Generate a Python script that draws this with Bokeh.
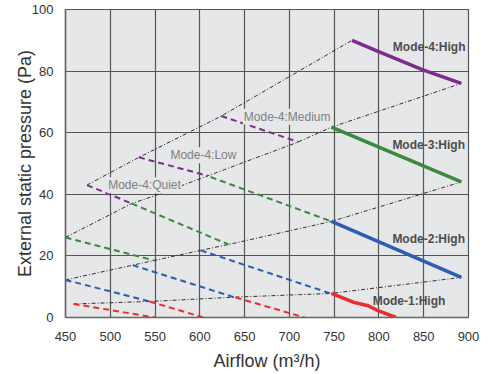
from bokeh.plotting import figure
from bokeh.models import Range1d, FixedTicker, Label
from bokeh.embed import file_html
from bokeh.resources import INLINE

# ---- axis ticks ----
x_ticks = [450, 500, 550, 600, 650, 700, 750, 800, 850, 900]
y_ticks = [0, 20, 40, 60, 80, 100]

# ---- system (black dash-dot) curves ----
sys1_x = [474, 532, 624, 770]
sys1_y = [43, 52, 65.4, 90]
sys2_x = [450, 524, 551, 609, 710, 747, 892]
sys2_y = [26, 37, 39.7, 46, 57, 61.8, 76]
sys3_x = [450, 525, 549, 601, 632, 747, 892]
sys3_y = [12.2, 17, 18.5, 21.8, 23.7, 31.2, 44]
sys4_x = [459, 544, 638, 746, 892]
sys4_y = [4.4, 5.2, 6.6, 7.8, 13]

# ---- Mode-4 (purple) ----
m4_quiet_x = [474, 524]
m4_quiet_y = [43, 37]
m4_low_x = [532, 609]
m4_low_y = [52, 46]
m4_med_x = [624, 710]
m4_med_y = [65.4, 57]
m4_high_x = [770, 799, 849, 892]
m4_high_y = [90, 86.4, 80.4, 76]

# ---- Mode-3 (green) ----
m3_quiet_x = [450, 549]
m3_quiet_y = [26, 18.5]
m3_low_x = [524, 632]
m3_low_y = [37, 23.7]
m3_med_x = [612, 747]
m3_med_y = [45.6, 31.2]
m3_high_x = [747, 892]
m3_high_y = [61.8, 44]

# ---- Mode-2 (blue) ----
m2_quiet_x = [450, 544]
m2_quiet_y = [12.2, 5.2]
m2_low_x = [525, 638]
m2_low_y = [17, 6.6]
m2_med_x = [601, 746]
m2_med_y = [21.8, 7.8]
m2_high_x = [747, 892]
m2_high_y = [31.2, 13]

# ---- Mode-1 (red) ----
m1_quiet_x = [459, 550]
m1_quiet_y = [4.4, 0]
m1_low_x = [544, 604]
m1_low_y = [5.2, 0]
m1_med_x = [640, 717]
m1_med_y = [6.5, 0]
m1_high_x = [747, 772, 788, 799, 819]
m1_high_y = [7.8, 4.9, 3.8, 2.2, 0]

PURPLE = "#7b2d8e"
GREEN = "#3b8a3e"
BLUE = "#2d5cb5"
RED = "#ee2b2b"
FONT = "Liberation Sans"

p = figure(frame_width=403, frame_height=308,
           x_range=Range1d(450, 900), y_range=Range1d(0, 100),
           output_backend="svg", toolbar_location=None,
           min_border_left=65, min_border_top=9, min_border_right=12,
           min_border_bottom=50)

p.background_fill_color = "#e6e7e8"
p.border_fill_color = "white"
p.outline_line_color = "#555555"
p.outline_line_width = 1.2

for ax in (p.xaxis[0], p.yaxis[0]):
    ax.major_tick_in = 0
    ax.major_tick_out = 0
    ax.minor_tick_in = 0
    ax.minor_tick_out = 0
    ax.axis_line_color = "#666666"
    ax.axis_line_width = 1.5
    ax.major_label_text_font = FONT
    ax.major_label_text_font_size = "13px"
    ax.major_label_text_color = "#333333"
    ax.axis_label_text_font = FONT
    ax.axis_label_text_font_size = "18px"
    ax.axis_label_text_font_style = "normal"
    ax.axis_label_text_color = "#333333"

p.xaxis.major_label_standoff = 14
p.yaxis.major_label_standoff = 12
p.xaxis.ticker = FixedTicker(ticks=x_ticks)
p.yaxis.ticker = FixedTicker(ticks=y_ticks)
p.xaxis.axis_label = "Airflow (m³/h)"
p.yaxis.axis_label = "External static pressure (Pa)"
p.xaxis.axis_label_standoff = 7
p.yaxis.axis_label_standoff = -6

p.grid.grid_line_color = "#555555"
p.grid.grid_line_width = 1.2

# system curves
for xs, ys in [(sys1_x, sys1_y), (sys2_x, sys2_y), (sys3_x, sys3_y), (sys4_x, sys4_y)]:
    p.line(xs, ys, line_color="#1a1a1a", line_width=0.9, line_dash="4 2 1 2")

groups = [
    (PURPLE, [(m4_quiet_x, m4_quiet_y), (m4_low_x, m4_low_y), (m4_med_x, m4_med_y)], (m4_high_x, m4_high_y)),
    (GREEN, [(m3_quiet_x, m3_quiet_y), (m3_low_x, m3_low_y), (m3_med_x, m3_med_y)], (m3_high_x, m3_high_y)),
    (BLUE, [(m2_quiet_x, m2_quiet_y), (m2_low_x, m2_low_y), (m2_med_x, m2_med_y)], (m2_high_x, m2_high_y)),
    (RED, [(m1_quiet_x, m1_quiet_y), (m1_low_x, m1_low_y), (m1_med_x, m1_med_y)], (m1_high_x, m1_high_y)),
]
for color, dashed, solid in groups:
    for xs, ys in dashed:
        p.line(xs, ys, line_color=color, line_width=2, line_dash="6 4")
    p.line(solid[0], solid[1], line_color=color, line_width=3.5)

# gray labels (with background)
for txt, lx, ly in [("Mode-4:Quiet", 496.5, 42.9), ("Mode-4:Low", 566, 52.7), ("Mode-4:Medium", 648, 65.2)]:
    p.add_layout(Label(x=lx, y=ly, text=txt, text_font=FONT, text_font_size="12px",
                       text_color="#808080", text_align="left", text_baseline="middle",
                       background_fill_color="#e6e7e8", padding=1))

# bold labels
for txt, lx, ly in [("Mode-4:High", 815.5, 87.7), ("Mode-3:High", 815, 56.0),
                    ("Mode-2:High", 815, 25.6), ("Mode-1:High", 793, 5.2)]:
    p.add_layout(Label(x=lx, y=ly, text=txt, text_font=FONT, text_font_size="12px",
                       text_font_style="bold", text_color="#4d4d4d",
                       text_align="left", text_baseline="middle"))

open("out.html", "w").write(file_html(p, INLINE))
